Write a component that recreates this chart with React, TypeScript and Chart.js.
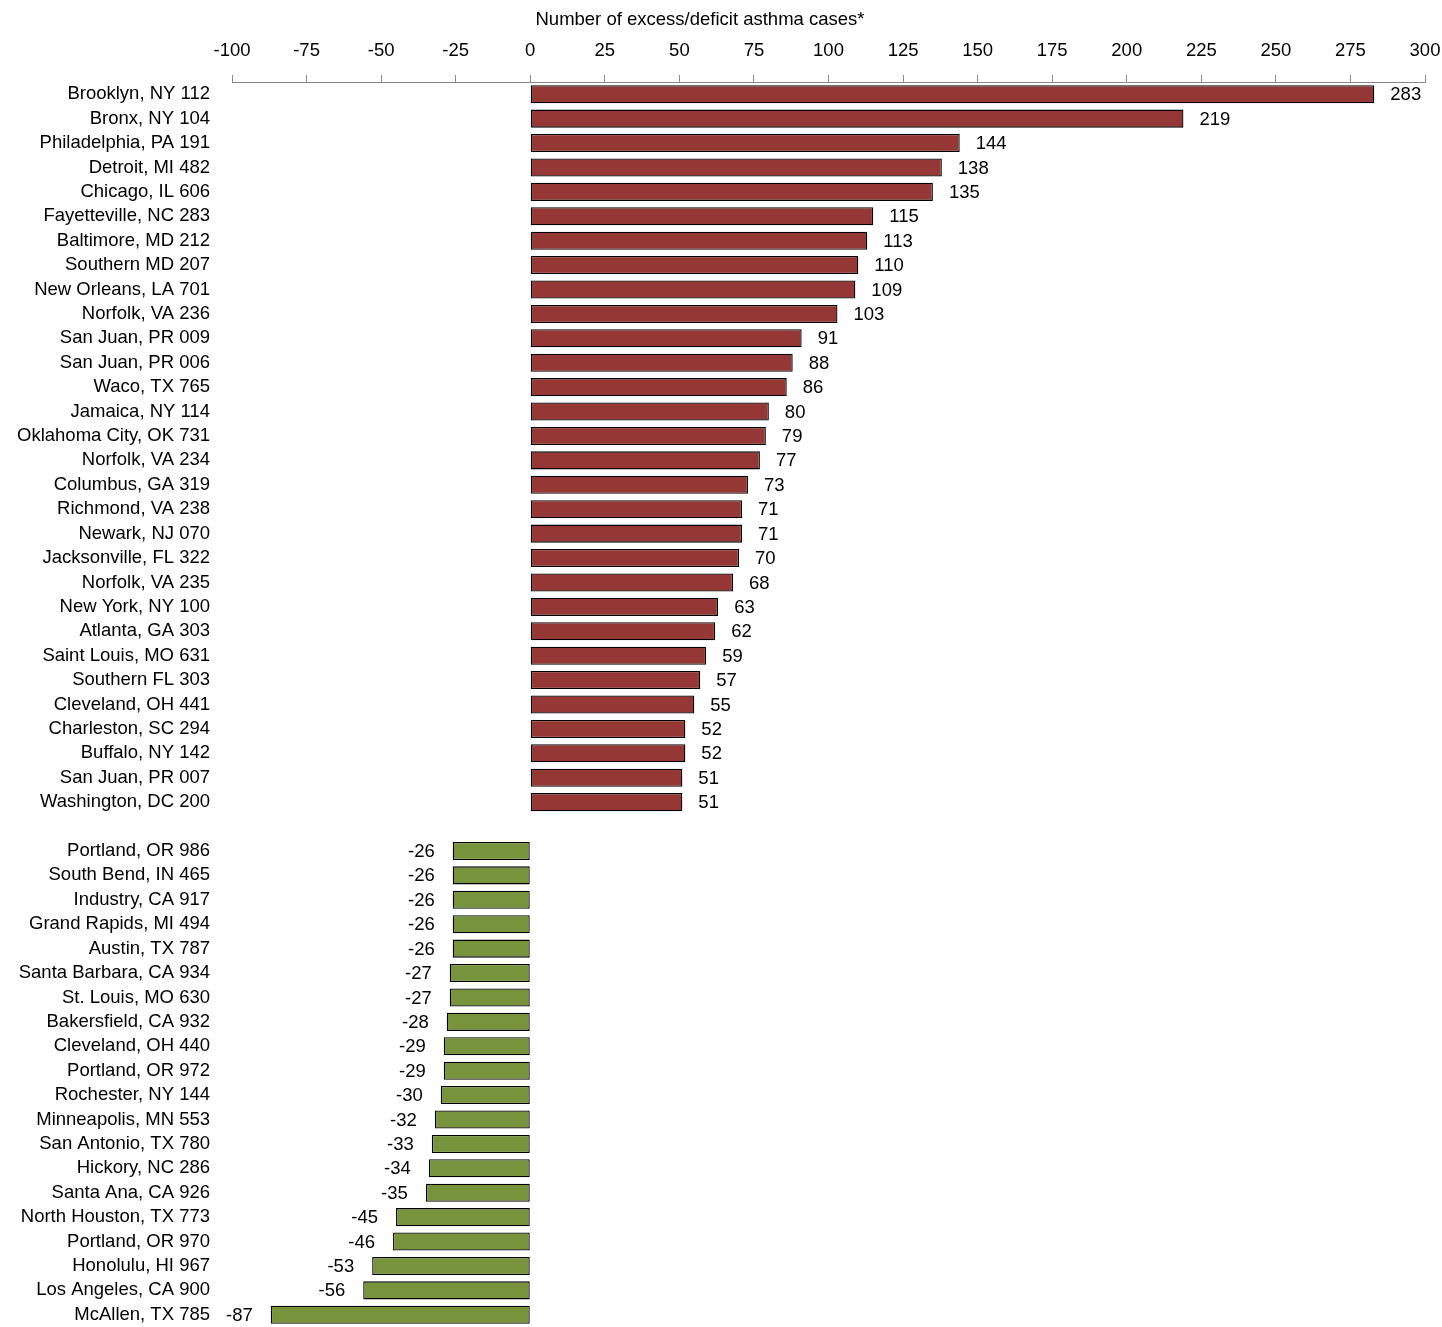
import { useEffect, useRef } from "react";
import { Chart, registerables } from "chart.js";

Chart.register(...registerables);

const positiveAreas = [
  "Brooklyn, NY 112", "Bronx, NY 104", "Philadelphia, PA 191", "Detroit, MI 482",
  "Chicago, IL 606", "Fayetteville, NC 283", "Baltimore, MD 212", "Southern MD 207",
  "New Orleans, LA 701", "Norfolk, VA 236", "San Juan, PR 009", "San Juan, PR 006",
  "Waco, TX 765", "Jamaica, NY 114", "Oklahoma City, OK 731", "Norfolk, VA 234",
  "Columbus, GA 319", "Richmond, VA 238", "Newark, NJ 070", "Jacksonville, FL 322",
  "Norfolk, VA 235", "New York, NY 100", "Atlanta, GA 303", "Saint Louis, MO 631",
  "Southern FL 303", "Cleveland, OH 441", "Charleston, SC 294", "Buffalo, NY 142",
  "San Juan, PR 007", "Washington, DC 200",
];
const positiveValues = [
  283, 219, 144, 138, 135, 115, 113, 110, 109, 103, 91, 88, 86, 80, 79, 77, 73, 71,
  71, 70, 68, 63, 62, 59, 57, 55, 52, 52, 51, 51,
];
const negativeAreas = [
  "Portland, OR 986", "South Bend, IN 465", "Industry, CA 917", "Grand Rapids, MI 494",
  "Austin, TX 787", "Santa Barbara, CA 934", "St. Louis, MO 630", "Bakersfield, CA 932",
  "Cleveland, OH 440", "Portland, OR 972", "Rochester, NY 144", "Minneapolis, MN 553",
  "San Antonio, TX 780", "Hickory, NC 286", "Santa Ana, CA 926", "North Houston, TX 773",
  "Portland, OR 970", "Honolulu, HI 967", "Los Angeles, CA 900", "McAllen, TX 785",
];
const negativeValues = [
  -26, -26, -26, -26, -26, -27, -27, -28, -29, -29, -30, -32, -33, -34, -35, -45, -46,
  -53, -56, -87,
];

const FONT = "'Liberation Sans', Arial, sans-serif";
const SIZE = 18.5;

export default function App() {
  const chartRef = useRef<HTMLCanvasElement>(null);

  useEffect(() => {
    if (!chartRef.current) return;
    const labels = [...positiveAreas, "", ...negativeAreas];
    const values: (number | null)[] = [...positiveValues, null, ...negativeValues];
    const colors = values.map((v) => (v !== null && v < 0 ? "#77933C" : "#953735"));

    const valueLabels = {
      id: "valueLabels",
      afterDatasetsDraw(chart: Chart) {
        const ctx = chart.ctx;
        const meta = chart.getDatasetMeta(0);
        ctx.save();
        ctx.font = `${SIZE}px ${FONT}`;
        ctx.fillStyle = "#000";
        ctx.textBaseline = "middle";
        meta.data.forEach((bar: any, i) => {
          const v = values[i];
          if (v === null) return;
          if (v >= 0) {
            ctx.textAlign = "left";
            ctx.fillText(String(v), bar.x + 16, bar.y + 1);
          } else {
            ctx.textAlign = "right";
            ctx.fillText(String(v), bar.x - 18, bar.y + 1);
          }
        });
        ctx.textAlign = "center";
        ctx.fillText("Number of excess/deficit asthma cases*", 700, 20);
        ctx.restore();
      },
    };

    const chart = new Chart(chartRef.current, {
      type: "bar",
      data: {
        labels,
        datasets: [
          {
            data: values,
            backgroundColor: colors,
            borderColor: "#000",
            borderWidth: 1.3,
            borderSkipped: false,
            barPercentage: 0.74,
            categoryPercentage: 1,
          },
        ],
      },
      options: {
        indexAxis: "y",
        animation: false,
        responsive: false,
        maintainAspectRatio: false,
        layout: { padding: { left: 0, right: 17, top: 0, bottom: 0 } },
        plugins: { legend: { display: false }, tooltip: { enabled: false } },
        scales: {
          x: {
            position: "top",
            min: -100,
            max: 300,
            ticks: {
              stepSize: 25,
              color: "#000",
              font: { family: FONT, size: SIZE },
              padding: 13,
            },
            grid: {
              drawOnChartArea: false,
              tickLength: 7,
              color: "#888",
            },
            border: { color: "#888", width: 1 },
            afterFit: (scale: any) => {
              scale.height = 82;
              scale.paddingLeft = 0;
              scale.paddingRight = 0;
            },
          },
          y: {
            ticks: {
              color: "#000",
              font: { family: FONT, size: SIZE },
              padding: 22,
              autoSkip: false,
            },
            grid: { display: false, drawTicks: false },
            border: { display: false },
            afterFit: (scale: any) => {
              scale.width = 232;
              scale.paddingTop = 0;
              scale.paddingBottom = 0;
            },
          },
        },
      },
      plugins: [valueLabels],
    });

    return () => chart.destroy();
  }, []);

  return (
    <div style={{ position: "absolute", left: 0, top: 0, width: 1442, height: 1327, background: "#fff" }}>
      <canvas ref={chartRef} width={1442} height={1327} style={{ width: 1442, height: 1327 }} />
    </div>
  );
}
